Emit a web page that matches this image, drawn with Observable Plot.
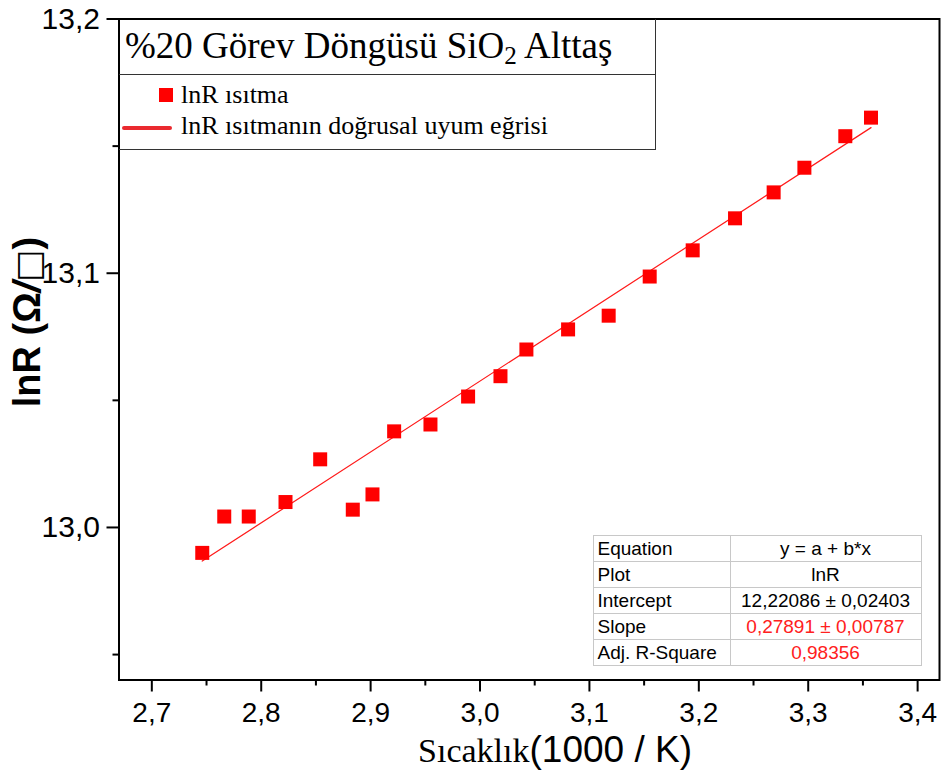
<!DOCTYPE html>
<html><head><meta charset="utf-8">
<script src="https://cdn.jsdelivr.net/npm/d3@7"></script>
<script src="https://cdn.jsdelivr.net/npm/@observablehq/plot@0.6"></script>
<style>
body{margin:0;background:#fff;}
#wrap{position:relative;width:942px;height:774px;overflow:hidden;background:#fff;}
#wrap svg{position:absolute;left:0;top:0;}
.ov{position:absolute;white-space:nowrap;}
.serif{font-family:"Liberation Serif","Times New Roman",serif;color:#000;}
.sans{font-family:"Liberation Sans",Arial,sans-serif;color:#000;}
#tbl{position:absolute;left:592.5px;top:534.5px;width:329px;border-collapse:collapse;border:1.5px solid #333;font-family:"Liberation Sans",Arial,sans-serif;font-size:19px;background:#fff;}
#tbl td{border:1px solid #c8c8c8;height:25px;padding:0 0 0 4px;line-height:25px;}
#tbl td.v{text-align:center;padding:0;}
</style></head><body><div id="wrap"></div>
<script>
// data
const temperature = [2.7461, 2.7662, 2.7886, 2.8222, 2.8539, 2.8837, 2.9017, 2.9215, 2.9547, 2.9891, 3.0187, 3.0424, 3.0805, 3.1176, 3.1551, 3.1944, 3.2331, 3.2684, 3.2965, 3.3339, 3.3574];
const lnR = [12.9900, 13.0043, 13.0043, 13.0100, 13.0268, 13.0070, 13.0130, 13.0378, 13.0405, 13.0515, 13.0595, 13.0700, 13.0779, 13.0833, 13.0987, 13.1090, 13.1216, 13.1318, 13.1415, 13.1539, 13.1612];
const fitIntercept = [12.22086];
const fitSlope = [0.27891];
const xTicks = [2.7, 2.8, 2.9, 3.0, 3.1, 3.2, 3.3, 3.4];
const xMinorTicks = [2.75, 2.85, 2.95, 3.05, 3.15, 3.25, 3.35];
const yTicks = [13.0, 13.1, 13.2];
const yMinorTicks = [12.95, 13.05, 13.15];
const titleText = ["%20 Görev Döngüsü SiO", "2", " Alttaş"];
const legendLabels = ["lnR ısıtma", "lnR ısıtmanın doğrusal uyum eğrisi"];
const xTitle = ["Sıcaklık", "(1000 / K)"];
const yTitle = ["lnR", "(Ω", "/", "□", ")"];
const tableLabels = ["Equation", "Plot", "Intercept", "Slope", "Adj. R-Square"];
const tableValues = ["y = a + b*x", "lnR", "12,22086 ± 0,02403", "0,27891 ± 0,00787", "0,98356"];
const tableValueRed = [false, false, false, true, true];

const fmt = d => d.toFixed(1).replace(".", ",");
const points = temperature.map((x, i) => ({x, y: lnR[i]}));
const fitX = d3.extent(temperature);
const fitLine = fitX.map(x => ({x, y: fitIntercept[0] + fitSlope[0] * x}));

const chart = Plot.plot({
  width: 942, height: 774,
  marginLeft: 118.5, marginRight: 3, marginTop: 18.5, marginBottom: 94.5,
  x: {domain: [2.67, 3.42]},
  y: {domain: [12.94, 13.2]},
  style: {fontFamily: "'Liberation Sans', Arial, sans-serif", fontSize: "28px", color: "#000", background: "#fff"},
  marks: [
    Plot.axisX(xMinorTicks, {tickSize: 6, text: null, strokeWidth: 2, label: null}),
    Plot.axisX(xTicks, {tickSize: 12, tickPadding: 10, tickFormat: fmt, strokeWidth: 2, label: null, fontSize: 28}),
    Plot.axisY(yMinorTicks, {tickSize: 6, text: null, strokeWidth: 2, label: null}),
    Plot.axisY(yTicks, {tickSize: 12, tickPadding: 7, tickFormat: fmt, strokeWidth: 2, label: null, fontSize: 30}),
    Plot.line(fitLine, {x: "x", y: "y", stroke: "#ff1a1a", strokeWidth: 1.2}),
    Plot.dot(points, {x: "x", y: "y", symbol: "square", r: 7.9, fill: "#ff0000", stroke: "none"}),
    Plot.frame({stroke: "#000", strokeWidth: 2})
  ]
});
const wrap = document.getElementById("wrap");
wrap.appendChild(chart);

function ov(html, style, cls) {
  const d = document.createElement("div");
  d.className = "ov " + (cls || "");
  d.innerHTML = html;
  Object.assign(d.style, style);
  wrap.appendChild(d);
  return d;
}
// title + legend box
ov("", {left: "118.5px", top: "18.5px", width: "537px", height: "131.5px", borderRight: "1.5px solid #333", borderBottom: "1.5px solid #333", boxSizing: "border-box"});
ov("", {left: "118.5px", top: "73.5px", width: "537px", height: "0", borderTop: "1.5px solid #333"});
ov(titleText[0] + '<span style="font-size:0.68em;position:relative;top:0.25em">' + titleText[1] + '</span>' + titleText[2],
   {left: "125px", top: "22px", fontSize: "37px", lineHeight: "48px"}, "serif");
ov("", {left: "159px", top: "88px", width: "14px", height: "14px", background: "#ff0000"});
ov(legendLabels[0], {left: "181px", top: "80px", fontSize: "26px", lineHeight: "30px"}, "serif");
ov("", {left: "122px", top: "125.5px", width: "50px", height: "4px", borderRadius: "2px", background: "#ea2a2f"});
ov(legendLabels[1], {left: "181px", top: "111px", fontSize: "26px", lineHeight: "30px"}, "serif");

// axis titles
ov('<span class="serif" style="font-size:34px">' + xTitle[0] + '</span><span class="sans" style="font-size:37px">' + xTitle[1] + '</span>',
   {left: "555px", top: "728px", transform: "translateX(-50%)", lineHeight: "44px"});
ov(yTitle[0] + ' ' + yTitle[1] + '<span style="font-style:italic">' + yTitle[2] + '</span><span style="font-family:\'DejaVu Sans\',sans-serif;font-weight:normal;font-size:0.9em">' + yTitle[3] + '</span>' + yTitle[4],
   {left: "27px", top: "322px", transform: "translate(-50%,-50%) rotate(-90deg)", fontSize: "38px", fontWeight: "bold", lineHeight: "40px"}, "sans");

// statistics table
const tbl = document.createElement("table");
tbl.id = "tbl";
tableLabels.forEach((lab, i) => {
  const tr = document.createElement("tr");
  const a = document.createElement("td"); a.textContent = lab; a.style.width = "132px";
  const b = document.createElement("td"); b.className = "v"; b.textContent = tableValues[i];
  if (tableValueRed[i]) b.style.color = "#ff2020";
  tr.appendChild(a); tr.appendChild(b); tbl.appendChild(tr);
});
wrap.appendChild(tbl);
</script></body></html>
